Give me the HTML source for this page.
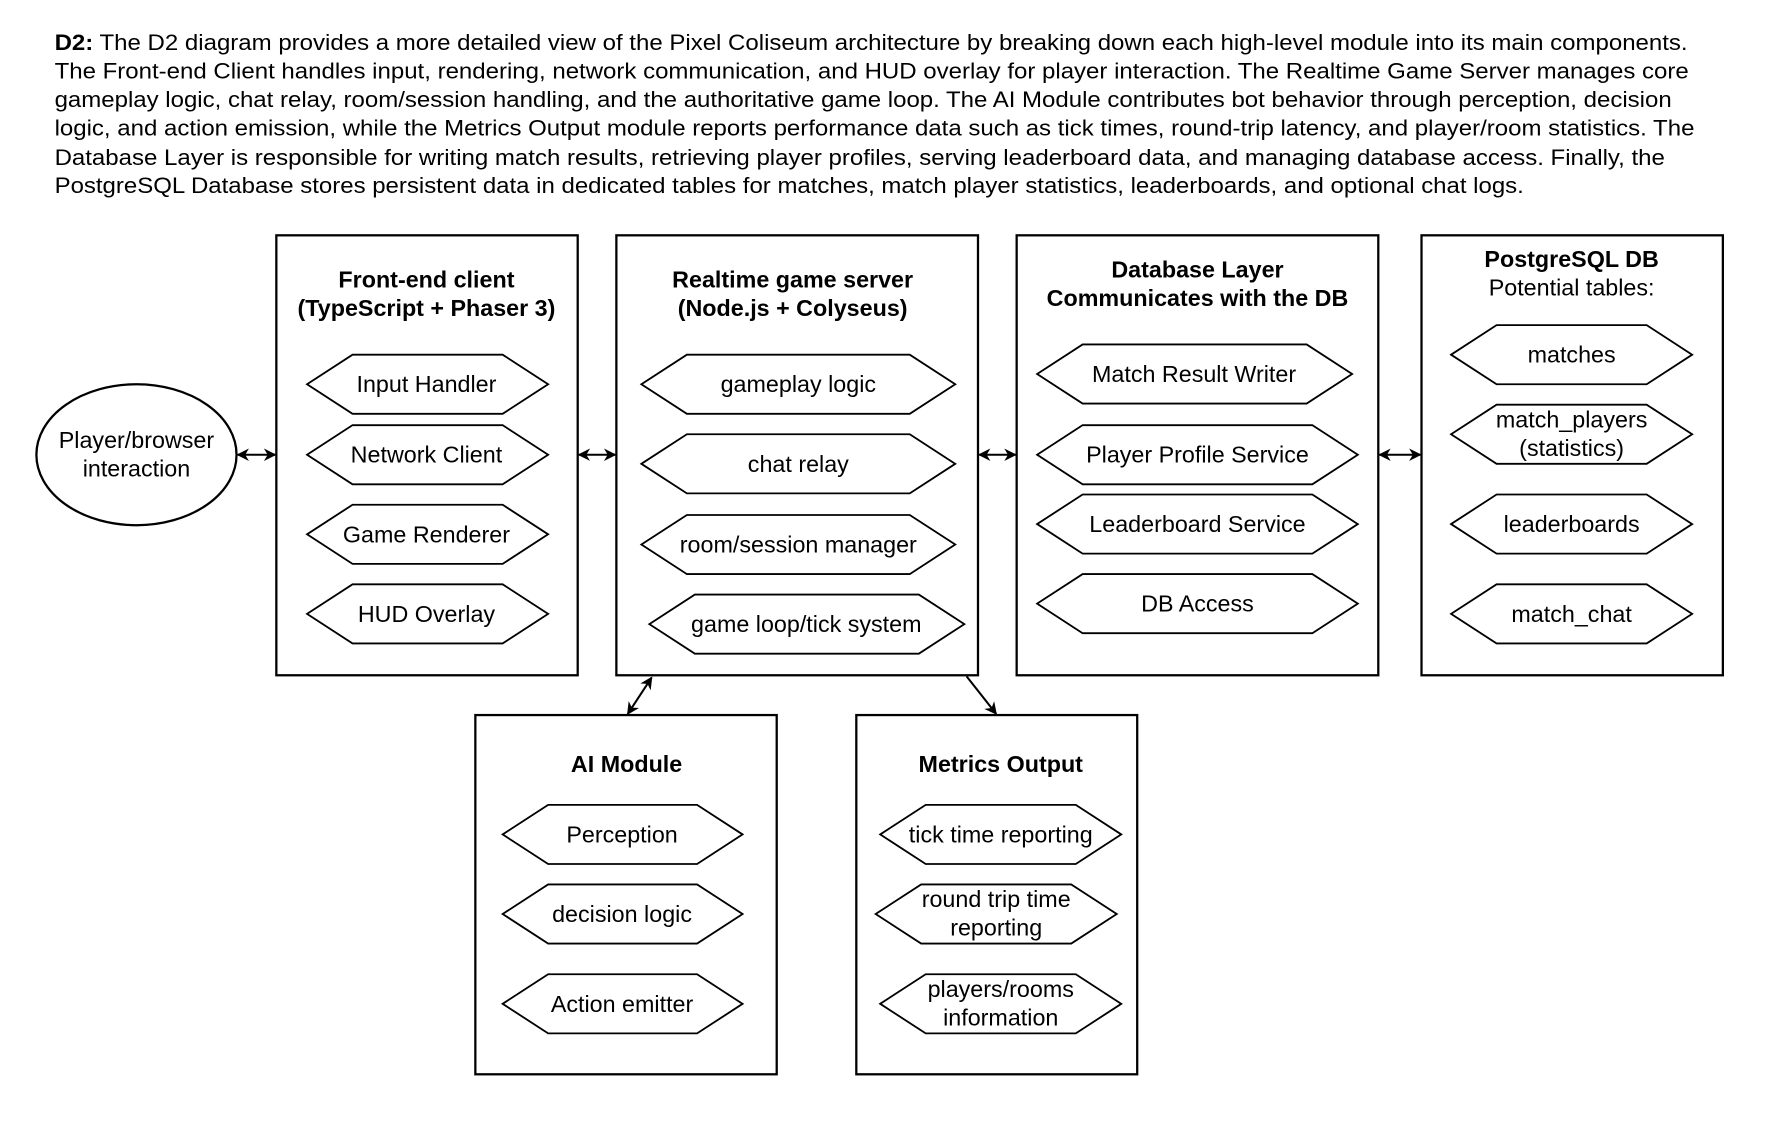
<!DOCTYPE html>
<html><head><meta charset="utf-8"><style>
html,body{margin:0;padding:0;background:#fff;}
svg{display:block;}
text{font-family:"Liberation Sans",Arial,Helvetica,sans-serif;fill:#000;}
</style></head><body>
<svg width="1782" height="1130" viewBox="0 0 1567 994" preserveAspectRatio="none" xmlns="http://www.w3.org/2000/svg">
<defs>
<marker id="a" viewBox="0 0 10 10" refX="9" refY="5" markerWidth="7" markerHeight="7" markerUnits="userSpaceOnUse" orient="auto-start-reverse"><path d="M0,0 L10,5 L0,10 L3,5 z" fill="#000"/></marker>
<marker id="b" viewBox="0 0 10 10" refX="9" refY="5" markerWidth="11" markerHeight="11" markerUnits="userSpaceOnUse" orient="auto-start-reverse"><path d="M0,0 L10,5 L0,10 L3,5 z" fill="#000"/></marker>
</defs>
<g font-size="19.5">
<text x="48" y="44" textLength="1436" lengthAdjust="spacingAndGlyphs"><tspan font-weight="bold">D2:</tspan> The D2 diagram provides a more detailed view of the Pixel Coliseum architecture by breaking down each high-level module into its main components.</text>
<text x="48" y="69" textLength="1437" lengthAdjust="spacingAndGlyphs">The Front-end Client handles input, rendering, network communication, and HUD overlay for player interaction. The Realtime Game Server manages core</text>
<text x="48" y="94" textLength="1422" lengthAdjust="spacingAndGlyphs">gameplay logic, chat relay, room/session handling, and the authoritative game loop. The AI Module contributes bot behavior through perception, decision</text>
<text x="48" y="119" textLength="1442" lengthAdjust="spacingAndGlyphs">logic, and action emission, while the Metrics Output module reports performance data such as tick times, round-trip latency, and player/room statistics. The</text>
<text x="48" y="145" textLength="1416" lengthAdjust="spacingAndGlyphs">Database Layer is responsible for writing match results, retrieving player profiles, serving leaderboard data, and managing database access. Finally, the</text>
<text x="48" y="170" textLength="1292" lengthAdjust="spacingAndGlyphs">PostgreSQL Database stores persistent data in dedicated tables for matches, match player statistics, leaderboards, and optional chat logs.</text>
</g>
<g fill="none" stroke="#000" stroke-width="2">
<ellipse cx="120" cy="400" rx="88" ry="62"/>
<rect x="243" y="207" width="265" height="387"/>
<rect x="542" y="207" width="318" height="387"/>
<rect x="894" y="207" width="318" height="387"/>
<rect x="1250" y="207" width="265" height="387"/>
<rect x="418" y="629" width="265" height="316"/>
<rect x="753" y="629" width="247" height="316"/>
</g>
<g fill="none" stroke="#000" stroke-width="1.6">
<polygon points="270,338 310,312 442,312 482,338 442,364 310,364"/>
<polygon points="270,400 310,374 442,374 482,400 442,426 310,426"/>
<polygon points="270,470 310,444 442,444 482,470 442,496 310,496"/>
<polygon points="270,540 310,514 442,514 482,540 442,566 310,566"/>
<polygon points="564,338 604,312 800,312 840,338 800,364 604,364"/>
<polygon points="564,408 604,382 800,382 840,408 800,434 604,434"/>
<polygon points="564,479 604,453 800,453 840,479 800,505 604,505"/>
<polygon points="571,549 611,523 808,523 848,549 808,575 611,575"/>
<polygon points="912,329 952,303 1149,303 1189,329 1149,355 952,355"/>
<polygon points="912,400 952,374 1154,374 1194,400 1154,426 952,426"/>
<polygon points="912,461 952,435 1154,435 1194,461 1154,487 952,487"/>
<polygon points="912,531 952,505 1154,505 1194,531 1154,557 952,557"/>
<polygon points="1276,312 1316,286 1448,286 1488,312 1448,338 1316,338"/>
<polygon points="1276,382 1316,356 1448,356 1488,382 1448,408 1316,408"/>
<polygon points="1276,461 1316,435 1448,435 1488,461 1448,487 1316,487"/>
<polygon points="1276,540 1316,514 1448,514 1488,540 1448,566 1316,566"/>
<polygon points="442,734 482,708 613,708 653,734 613,760 482,760"/>
<polygon points="442,804 482,778 613,778 653,804 613,830 482,830"/>
<polygon points="442,883 482,857 613,857 653,883 613,909 482,909"/>
<polygon points="774,734 814,708 946,708 986,734 946,760 814,760"/>
<polygon points="770,804 810,778 942,778 982,804 942,830 810,830"/>
<polygon points="774,883 814,857 946,857 986,883 946,909 814,909"/>
</g>
<g stroke="#000" stroke-width="1.8" fill="none">
<line x1="209" y1="400" x2="242" y2="400" marker-start="url(#b)" marker-end="url(#b)"/>
<line x1="509" y1="400" x2="541" y2="400" marker-start="url(#b)" marker-end="url(#b)"/>
<line x1="861" y1="400" x2="893" y2="400" marker-start="url(#b)" marker-end="url(#b)"/>
<line x1="1213" y1="400" x2="1249" y2="400" marker-start="url(#b)" marker-end="url(#b)"/>
<line x1="573" y1="596" x2="552" y2="628" marker-start="url(#b)" marker-end="url(#b)"/>
<line x1="850" y1="595" x2="876" y2="628" marker-end="url(#b)"/>
</g>
<g font-size="20.5" text-anchor="middle">
<text x="120" y="394">Player/browser</text>
<text x="120" y="419">interaction</text>
<g font-weight="bold">
<text x="375" y="253">Front-end client</text>
<text x="375" y="278">(TypeScript + Phaser 3)</text>
<text x="697" y="253">Realtime game server</text>
<text x="697" y="278">(Node.js + Colyseus)</text>
<text x="1053" y="244">Database Layer</text>
<text x="1053" y="269">Communicates with the DB</text>
<text x="1382" y="235">PostgreSQL DB</text>
<text x="551" y="679">AI Module</text>
<text x="880" y="679">Metrics Output</text>
</g>
<text x="1382" y="260">Potential tables:</text>
<text x="375" y="345">Input Handler</text>
<text x="375" y="407">Network Client</text>
<text x="375" y="477">Game Renderer</text>
<text x="375" y="547">HUD Overlay</text>
<text x="702" y="345">gameplay logic</text>
<text x="702" y="415">chat relay</text>
<text x="702" y="486">room/session manager</text>
<text x="709" y="556">game loop/tick system</text>
<text x="1050" y="336">Match Result Writer</text>
<text x="1053" y="407">Player Profile Service</text>
<text x="1053" y="468">Leaderboard Service</text>
<text x="1053" y="538">DB Access</text>
<text x="1382" y="319">matches</text>
<text x="1382" y="376">match_players</text>
<text x="1382" y="401">(statistics)</text>
<text x="1382" y="468">leaderboards</text>
<text x="1382" y="547">match_chat</text>
<text x="547" y="741">Perception</text>
<text x="547" y="811">decision logic</text>
<text x="547" y="890">Action emitter</text>
<text x="880" y="741">tick time reporting</text>
<text x="876" y="798">round trip time</text>
<text x="876" y="823">reporting</text>
<text x="880" y="877">players/rooms</text>
<text x="880" y="902">information</text>
</g>
</svg>
</body></html>
